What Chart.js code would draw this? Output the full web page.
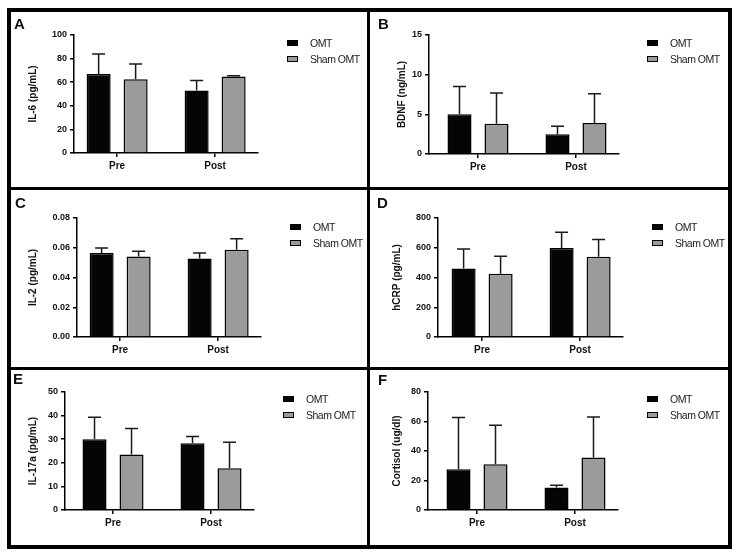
<!DOCTYPE html>
<html>
<head>
<meta charset="utf-8">
<script src="https://cdn.jsdelivr.net/npm/chart.js@4.4.0/dist/chart.umd.min.js"></script>
<style>
  body { margin:0; width:741px; height:558px; background:#fff; position:relative; overflow:hidden; font-family:"Liberation Sans", Arial, sans-serif; }
  .frame { position:absolute; left:7px; top:8px; width:725px; height:541px; border:4px solid #000; box-sizing:border-box; z-index:2; }
  .vline { position:absolute; left:367px; top:8px; width:3px; height:541px; background:#000; z-index:2; }
  .hline { position:absolute; left:7px; width:725px; height:3px; background:#000; z-index:2; }
  canvas { position:absolute; }
  .letter { position:absolute; font-weight:bold; font-size:15px; line-height:15px; color:#111; }
  .legend { position:absolute; font-size:10.5px; letter-spacing:-0.5px; color:#222; }
  .legend .row { display:flex; align-items:center; height:16px; white-space:nowrap; }
  .legend .box { width:11px; height:6px; box-sizing:border-box; border:1.5px solid #000; margin-right:12px; }
</style>
</head>
<body>
<div class="frame"></div>
<div class="vline"></div>
<div class="hline" style="top:187px"></div>
<div class="hline" style="top:367px"></div>
<script>
const categories = ['Pre', 'Post'];
const seriesNames = ['OMT', 'Sham OMT'];
const seriesColors = ['#050505', '#9b9b9b'];

// A - IL-6
const il6Omt = [67, 53];
const il6OmtErr = [17, 8.5];
const il6Sham = [62.5, 64.8];
const il6ShamErr = [13, 0.7];
const il6Ticks = [0, 20, 40, 60, 80, 100];

// B - BDNF
const bdnfOmt = [5.0, 2.5];
const bdnfOmtErr = [3.5, 1.0];
const bdnfSham = [3.8, 3.9];
const bdnfShamErr = [3.9, 3.7];
const bdnfTicks = [0, 5, 10, 15];

// C - IL-2
const il2Omt = [0.0565, 0.0527];
const il2OmtErr = [0.0033, 0.0038];
const il2Sham = [0.0542, 0.0587];
const il2ShamErr = [0.0034, 0.0074];
const il2Ticks = [0, 0.02, 0.04, 0.06, 0.08];

// D - hCRP
const crpOmt = [460, 599];
const crpOmtErr = [132, 105];
const crpSham = [426, 540];
const crpShamErr = [117, 115];
const crpTicks = [0, 200, 400, 600, 800];

// E - IL-17a
const il17Omt = [30, 28.3];
const il17OmtErr = [9.3, 2.8];
const il17Sham = [23.5, 17.7];
const il17ShamErr = [11, 11];
const il17Ticks = [0, 10, 20, 30, 40, 50];

// F - Cortisol
const cortOmt = [27.7, 15.3];
const cortOmtErr = [35, 1.5];
const cortSham = [31.1, 35.6];
const cortShamErr = [26.4, 27.5];
const cortTicks = [0, 20, 40, 60, 80];

const panels = [
  { id:'A', title:'IL-6 (pg/mL)', values:[il6Omt, il6Sham], errors:[il6OmtErr, il6ShamErr], ticks:il6Ticks, decimals:0,
    box:{x:11, y:12, w:356, h:175}, area:{left:74, top:35, bottom:153, titleX:33, xMin:-0.44},
    letter:{x:14, y:16}, legend:{x:287, y:35} },
  { id:'B', title:'BDNF (ng/mL)', values:[bdnfOmt, bdnfSham], errors:[bdnfOmtErr, bdnfShamErr], ticks:bdnfTicks, decimals:0,
    box:{x:371, y:12, w:357, h:175}, area:{left:429, top:35, bottom:154, titleX:402, xMin:-0.5},
    letter:{x:378, y:16}, legend:{x:647, y:35} },
  { id:'C', title:'IL-2 (pg/mL)', values:[il2Omt, il2Sham], errors:[il2OmtErr, il2ShamErr], ticks:il2Ticks, decimals:2,
    box:{x:11, y:190, w:356, h:177}, area:{left:77, top:218, bottom:337, titleX:33, xMin:-0.44},
    letter:{x:15, y:195}, legend:{x:290, y:219} },
  { id:'D', title:'hCRP (pg/mL)', values:[crpOmt, crpSham], errors:[crpOmtErr, crpShamErr], ticks:crpTicks, decimals:0,
    box:{x:371, y:190, w:357, h:177}, area:{left:438, top:218, bottom:337, titleX:397, xMin:-0.45},
    letter:{x:377, y:195}, legend:{x:652, y:219} },
  { id:'E', title:'IL-17a (pg/mL)', values:[il17Omt, il17Sham], errors:[il17OmtErr, il17ShamErr], ticks:il17Ticks, decimals:0,
    box:{x:11, y:370, w:356, h:175}, area:{left:65, top:392, bottom:510, titleX:33, xMin:-0.49},
    letter:{x:13, y:371}, legend:{x:283, y:391} },
  { id:'F', title:'Cortisol (ug/dl)', values:[cortOmt, cortSham], errors:[cortOmtErr, cortShamErr], ticks:cortTicks, decimals:0,
    box:{x:371, y:370, w:357, h:175}, area:{left:428, top:392, bottom:510, titleX:397, xMin:-0.5},
    letter:{x:378, y:372}, legend:{x:647, y:391} }
];

// upward SD whiskers with caps
const errorBars = {
  id: 'errorBars',
  afterDatasetsDraw(chart) {
    const ctx = chart.ctx;
    const yScale = chart.scales.y;
    ctx.save();
    ctx.strokeStyle = '#1a1a1a';
    ctx.lineWidth = 1.5;
    chart.data.datasets.forEach((ds, i) => {
      chart.getDatasetMeta(i).data.forEach((bar, j) => {
        const top = yScale.getPixelForValue(ds.data[j].y + ds.errors[j]);
        const half = bar.width * 0.27;
        ctx.beginPath();
        ctx.moveTo(bar.x, bar.y);
        ctx.lineTo(bar.x, top);
        ctx.moveTo(bar.x - half, top);
        ctx.lineTo(bar.x + half, top);
        ctx.stroke();
      });
    });
    ctx.restore();
  }
};

Chart.defaults.font.family = '"Liberation Sans", Arial, sans-serif';
Chart.defaults.color = '#111';

const UNIT = 98, X_MAX = 1.44, X_AXIS_H = 30;

panels.forEach(p => {
  const c = document.createElement('canvas');
  c.width = p.box.w;
  c.height = p.box.h;
  c.style.left = p.box.x + 'px';
  c.style.top = p.box.y + 'px';
  document.body.appendChild(c);

  const a = p.area;
  const right = a.left + (X_MAX - a.xMin) * UNIT;
  const padLeft = a.titleX - 10 - p.box.x;
  const yWidth = a.left - p.box.x - padLeft;
  const padTop = a.top - p.box.y;
  const padBottom = p.box.y + p.box.h - a.bottom - X_AXIS_H;
  const padRight = p.box.x + p.box.w - right;

  const axisGrid = { display:true, drawOnChartArea:false, offset:false, tickLength:4, color:'#000', lineWidth:1.5 };
  const axisBorder = { display:true, color:'#000', width:1.5 };

  new Chart(c, {
    type: 'bar',
    data: {
      datasets: seriesNames.map((name, i) => ({
        label: name,
        data: categories.map((_, j) => ({ x: j, y: p.values[i][j] })),
        errors: p.errors[i],
        backgroundColor: seriesColors[i],
        borderColor: '#000',
        borderWidth: 1.5,
        categoryPercentage: 0.755,
        barPercentage: 0.65
      }))
    },
    options: {
      responsive: false,
      animation: false,
      layout: { padding: { left: padLeft, right: padRight, top: padTop, bottom: padBottom } },
      plugins: { legend: { display: false }, tooltip: { enabled: false } },
      scales: {
        x: {
          type: 'linear', min: a.xMin, max: X_MAX, offset: false,
          afterBuildTicks: s => { s.ticks = categories.map((_, j) => ({ value: j })); },
          afterFit: s => { s.height = X_AXIS_H; },
          grid: axisGrid, border: axisBorder,
          ticks: { callback: v => categories[v], font: { size: 10, weight: 'bold' }, padding: 3, maxRotation: 0, autoSkip: false }
        },
        y: {
          min: p.ticks[0], max: p.ticks[p.ticks.length - 1],
          afterBuildTicks: s => { s.ticks = p.ticks.map(v => ({ value: v })); },
          afterFit: s => { s.width = yWidth; },
          grid: axisGrid, border: axisBorder,
          ticks: { callback: v => Number(v).toFixed(p.decimals), font: { size: 9, weight: 'bold' }, padding: 3 },
          title: { display: true, text: p.title, font: { size: 10, weight: 'bold' }, padding: { top: 4, bottom: 4 } }
        }
      }
    },
    plugins: [errorBars]
  });

  const letter = document.createElement('div');
  letter.className = 'letter';
  letter.textContent = p.id;
  letter.style.left = p.letter.x + 'px';
  letter.style.top = p.letter.y + 'px';
  document.body.appendChild(letter);

  const leg = document.createElement('div');
  leg.className = 'legend';
  leg.style.left = p.legend.x + 'px';
  leg.style.top = p.legend.y + 'px';
  seriesNames.forEach((name, i) => {
    const row = document.createElement('div');
    row.className = 'row';
    const box = document.createElement('span');
    box.className = 'box';
    box.style.background = seriesColors[i];
    row.appendChild(box);
    row.appendChild(document.createTextNode(name));
    leg.appendChild(row);
  });
  document.body.appendChild(leg);
});
</script>
</body>
</html>
